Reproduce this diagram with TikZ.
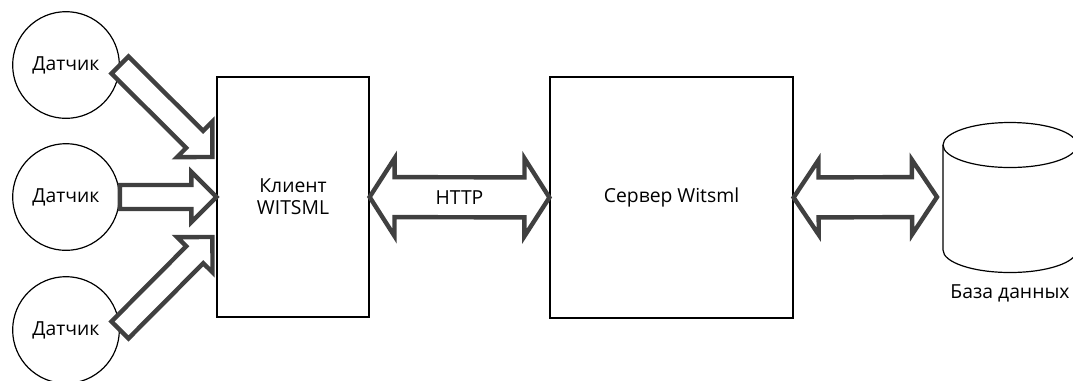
\documentclass[tikz,border=0pt]{standalone}
\usepackage{fontspec}
\setmainfont{Open Sans}
\usetikzlibrary{calc}
\definecolor{arrowgray}{HTML}{404040}
\newcommand\twoway[5]{% #1 end A, #2 end B, #3 shaft half width, #4 head half width, #5 head length
  \path ($(#1)!#5!(#2)$) coordinate (hA) ($(#2)!#5!(#1)$) coordinate (hB);
  \draw[fat] (#1) -- ($(hA)!#4!90:(#2)$) -- ($(hA)!#3!90:(#2)$) -- ($(hB)!#3!-90:(#1)$)
    -- ($(hB)!#4!-90:(#1)$) -- (#2) -- ($(hB)!#4!90:(#1)$) -- ($(hB)!#3!90:(#1)$)
    -- ($(hA)!#3!-90:(#2)$) -- ($(hA)!#4!-90:(#2)$) -- cycle;
}
\newcommand\oneway[5]{% #1 tail, #2 tip, #3 shaft half width, #4 head half width, #5 head length
  \path ($(#2)!#5!(#1)$) coordinate (hB);
  \draw[fat] (#2) -- ($(hB)!#4!90:(#1)$) -- ($(hB)!#3!90:(#1)$) -- ($(#1)!#3!-90:(#2)$)
    -- ($(#1)!#3!90:(#2)$) -- ($(hB)!#3!-90:(#1)$) -- ($(hB)!#4!-90:(#1)$) -- cycle;
}
\begin{document}
\begin{tikzpicture}[x=0.75pt,y=-0.75pt,
  every node/.style={font=\fontsize{14.5}{16.5}\selectfont, text=black},
  sensor/.style={circle, draw, line width=0.9pt, minimum size=80pt, inner sep=0pt},
  block/.style={draw, line width=0.9pt, inner sep=0pt, align=center},
  fat/.style={draw=arrowgray, line width=3.3pt, line join=miter, fill=white},
  dbline/.style={draw, line width=0.9pt}]
\useasboundingbox (0,0) rectangle (1073,380);

\node[sensor] (s1) at (66,65) {Датчик};
\node[sensor] (s2) at (66,197) {Датчик};
\node[sensor] (s3) at (66,330) {Датчик};

\node[block, minimum width=114pt, minimum height=180pt] (client) at (293,197) {Клиент\\WITSML};
\node[block, minimum width=182.25pt, minimum height=180.75pt] (server) at (671.5,197.5) {Сервер Witsml};

% database cylinder
\coordinate (db) at (1010,197);
\coordinate (dbw) at (943,197);
\path[dbline, fill=white] (943,145) -- (943,250) arc[start angle=180, end angle=0, x radius=67, y radius=22.5] -- (1077,145);
\draw[line width=0.9pt] (1010,145) ellipse[x radius=67, y radius=22.5];
\node (dblabel) at (1010,293) {База данных};

% sensor arrows
\coordinate (t1) at ($(client.west)+(-4,-40)$);
\coordinate (t3) at ($(client.west)+(-4,40)$);
\oneway{s1.east}{t1}{9pt}{18.75pt}{18.75pt}
\oneway{s2.east}{client.west}{9pt}{18.75pt}{18.75pt}
\oneway{s3.east}{t3}{9pt}{18.75pt}{18.75pt}

% HTTP arrow
\twoway{client.east}{server.west}{15pt}{29.25pt}{18.75pt}
\node (http) at ($(client.east)!0.5!(server.west)$) {HTTP};

% server - database arrow
\coordinate (dbtip) at ($(dbw)+(-6,0)$);
\twoway{server.east}{dbtip}{15pt}{28pt}{18.75pt}
\end{tikzpicture}
\end{document}
